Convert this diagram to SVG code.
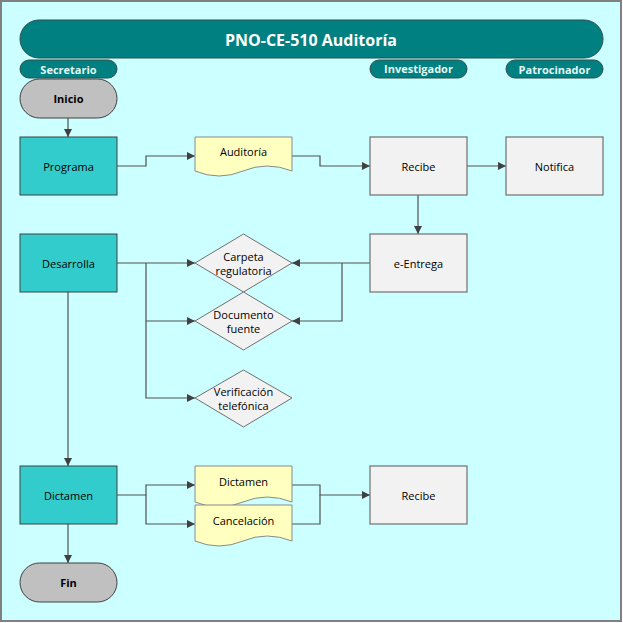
<svg xmlns="http://www.w3.org/2000/svg" width="623" height="623" viewBox="0 0 623 623">
<defs>
<marker id="ah" viewBox="0 0 10 10" refX="10" refY="5" markerWidth="8" markerHeight="8" markerUnits="userSpaceOnUse" orient="auto">
<path d="M0,0 L10,5 L0,10 z" fill="#404040"/>
</marker>
<style>
.t{font-family:"Open Sans","DejaVu Sans",sans-serif;font-size:11px;fill:#000;text-anchor:middle;dominant-baseline:central}
.b{font-weight:bold}
.hdr{fill:#008080;stroke:#2f4f4f;stroke-width:1}
.ht{font-family:"Open Sans","DejaVu Sans",sans-serif;font-size:11px;font-weight:bold;fill:#e6f7f7;text-anchor:middle;dominant-baseline:central}
.term{fill:#c0c0c0;stroke:#404040;stroke-width:1}
.proc{fill:#33cccc;stroke:#404040;stroke-width:1}
.gray{fill:#f2f2f2;stroke:#707070;stroke-width:1.2}
.doc{fill:#ffffc0;stroke:#8a8a8a;stroke-width:1}
.dia{fill:#f2f2f2;stroke:#707070;stroke-width:1}
.c{fill:none;stroke:#505050;stroke-width:1.2}
.ca{fill:none;stroke:#505050;stroke-width:1.2;marker-end:url(#ah)}
</style>
</defs>
<rect x="1" y="1" width="620" height="620" fill="#ccffff" stroke="#808080" stroke-width="2"/>
<g id="title">
<rect x="20" y="20" width="583" height="38" rx="19" ry="19" class="hdr"/>
<text x="311" y="40" font-family="Open Sans, DejaVu Sans, sans-serif" font-size="16" font-weight="bold" fill="#ffffff" text-anchor="middle" dominant-baseline="central">PNO-CE-510 Auditoría</text>
</g>
<g id="lane-secretario">
<rect x="20" y="60" width="97" height="18" rx="9" ry="9" class="hdr"/>
<text x="68.5" y="69" class="ht">Secretario</text>
</g>
<g id="lane-investigador">
<rect x="370" y="60" width="97" height="18" rx="9" ry="9" class="hdr"/>
<text x="418.5" y="68" class="ht">Investigador</text>
</g>
<g id="lane-patrocinador">
<rect x="506" y="60" width="97" height="18" rx="9" ry="9" class="hdr"/>
<text x="554.5" y="69" class="ht">Patrocinador</text>
</g>
<g id="connectors">
<path class="ca" d="M68,118 V137"/>
<path class="ca" d="M117,166 H146 V156 H195"/>
<path class="ca" d="M292,156 H320 V166 H370"/>
<path class="ca" d="M467,166 H506"/>
<path class="ca" d="M418,195 V234"/>
<path class="ca" d="M117,263 H195"/>
<path class="ca" d="M146,263 V321 H195"/>
<path class="ca" d="M146,321 V398 H195"/>
<path class="ca" d="M370,263 H292"/>
<path class="ca" d="M342,263 V321 H292"/>
<path class="ca" d="M68,292 V466"/>
<path class="ca" d="M117,495 H146 V485 H195"/>
<path class="ca" d="M146,495 V524 H195"/>
<path class="ca" d="M292,485 H320 V495 H370"/>
<path class="c" d="M292,524 H320 V495"/>
<path class="ca" d="M68,524 V563"/>
</g>
<g id="inicio">
<rect x="20" y="79" width="97" height="39" rx="19.5" ry="19.5" class="term"/>
<text x="68.5" y="98.5" class="t b">Inicio</text>
</g>
<g id="programa">
<rect x="20" y="137" width="97" height="58" class="proc"/>
<text x="68.5" y="166" class="t">Programa</text>
</g>
<g id="auditoria">
<path class="doc" d="M195,137 H292 V171 Q267,161 243,171 T195,171 Z"/>
<text x="243.5" y="151" class="t">Auditoría</text>
</g>
<g id="recibe1">
<rect x="370" y="137" width="97" height="58" class="gray"/>
<text x="418.5" y="166" class="t">Recibe</text>
</g>
<g id="notifica">
<rect x="506" y="137" width="97" height="58" class="gray"/>
<text x="554.5" y="166" class="t">Notifica</text>
</g>
<g id="desarrolla">
<rect x="20" y="234" width="97" height="58" class="proc"/>
<text x="68.5" y="263" class="t">Desarrolla</text>
</g>
<g id="eentrega">
<rect x="370" y="234" width="97" height="58" class="gray"/>
<text x="418.5" y="263" class="t">e-Entrega</text>
</g>
<g id="carpeta">
<path class="dia" d="M243.5,234 L292,263 L243.5,292 L195,263 Z"/>
<text x="243.5" y="256" class="t">Carpeta</text>
<text x="243.5" y="270" class="t">regulatoria</text>
</g>
<g id="documento">
<path class="dia" d="M243.5,292 L292,321 L243.5,350 L195,321 Z"/>
<text x="243.5" y="314" class="t">Documento</text>
<text x="243.5" y="328" class="t">fuente</text>
</g>
<g id="verificacion">
<path class="dia" d="M243.5,370 L292,398 L243.5,427 L195,398 Z"/>
<text x="243.5" y="391" class="t">Verificación</text>
<text x="243.5" y="405" class="t">telefónica</text>
</g>
<g id="dictamen">
<rect x="20" y="466" width="97" height="58" class="proc"/>
<text x="68.5" y="495" class="t">Dictamen</text>
</g>
<g id="dictamen-doc">
<path class="doc" d="M195,466 H292 V502 Q267,492 243,502 T195,502 Z"/>
<text x="243.5" y="481" class="t">Dictamen</text>
</g>
<g id="cancelacion">
<path class="doc" d="M195,505 H292 V541 Q267,531 243,541 T195,541 Z"/>
<text x="243.5" y="520" class="t">Cancelación</text>
</g>
<g id="recibe2">
<rect x="370" y="466" width="97" height="58" class="gray"/>
<text x="418.5" y="495" class="t">Recibe</text>
</g>
<g id="fin">
<rect x="20" y="563" width="97" height="39" rx="19.5" ry="19.5" class="term"/>
<text x="68.5" y="582.5" class="t b">Fin</text>
</g>
</svg>
